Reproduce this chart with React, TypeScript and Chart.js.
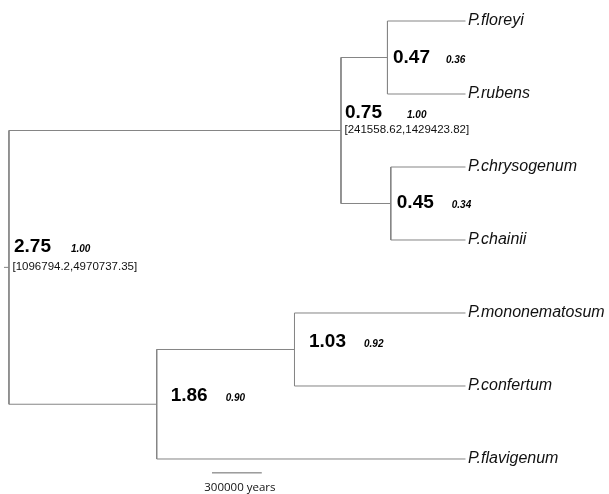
import React, { useEffect, useRef } from "react";
import { Chart, registerables } from "chart.js";

Chart.register(...registerables);

// ---- Data ----
const tipNames = [
  "P.floreyi",
  "P.rubens",
  "P.chrysogenum",
  "P.chainii",
  "P.mononematosum",
  "P.confertum",
  "P.flavigenum",
];
// internal nodes (ages in million years)
const nodeAges = [0.47, 0.45, 0.75, 1.03, 1.86, 2.75];
const nodeAgeLabels = ["0.47", "0.45", "0.75", "1.03", "1.86", "2.75"];
const nodePosteriors = ["0.36", "0.34", "1.00", "0.92", "0.90", "1.00"];
const nodeHPD = ["", "", "[241558.62,1429423.82]", "", "", "[1096794.2,4970737.35]"];
const nodeChildren = [
  ["t0", "t1"],
  ["t2", "t3"],
  ["n0", "n1"],
  ["t4", "t5"],
  ["n3", "t6"],
  ["n2", "n4"],
];
const rootNode = 5;
const rootStubAge = 2.78;
const scaleBarStart = 1.527; // Mya
const scaleBarLength = 0.3; // 300000 years
const scaleBarLabel = "300000 years";
const scaleBarRow = 6.19;

// ---- Styles ----
const LINE = "#858585";
const FONT = "'Liberation Sans', Arial, sans-serif";
// [dx, baseline dy, posterior dx]
const nodeLabelStyle = [
  [5.5, 5.5, 53],
  [6, 4.5, 55],
  [4, -13, 62],
  [14.5, -2.5, 55],
  [14, -3, 55],
  [5, -15, 57],
];

function posOf(id: string): { x: number; y: number } {
  if (id[0] === "t") return { x: 0, y: Number(id.slice(1)) };
  const i = Number(id.slice(1));
  const ys = nodeChildren[i].map((c) => posOf(c).y);
  return { x: nodeAges[i], y: ys.reduce((a, b) => a + b, 0) / ys.length };
}

function seg(points: { x: number; y: number }[], color = LINE) {
  return {
    data: points,
    showLine: true,
    borderColor: color,
    borderWidth: 1,
    pointRadius: 0,
    tension: 0,
  };
}

export default function App() {
  const ref = useRef<HTMLCanvasElement | null>(null);
  useEffect(() => {
    if (!ref.current) return;
    const datasets: any[] = [];
    nodeChildren.forEach((children, i) => {
      const p = posOf("n" + i);
      const cys = children.map((c) => posOf(c).y);
      datasets.push(seg([
        { x: p.x, y: Math.min(...cys) },
        { x: p.x, y: Math.max(...cys) },
      ]));
      children.forEach((c) => {
        const q = posOf(c);
        datasets.push(seg([
          { x: p.x, y: q.y },
          { x: q.x, y: q.y },
        ]));
      });
    });
    const rp = posOf("n" + rootNode);
    datasets.push(seg([
      { x: rootStubAge, y: rp.y },
      { x: rp.x, y: rp.y },
    ]));
    datasets.push(seg([
      { x: scaleBarStart, y: scaleBarRow },
      { x: scaleBarStart - scaleBarLength, y: scaleBarRow },
    ], "#666"));

    const labels = {
      id: "treeLabels",
      afterDatasetsDraw(chart: any) {
        const { ctx } = chart;
        const xs = chart.scales.x;
        const ys = chart.scales.y;
        ctx.save();
        // tip labels
        ctx.fillStyle = "#111";
        ctx.textAlign = "left";
        ctx.textBaseline = "middle";
        ctx.font = `italic 16px ${FONT}`;
        tipNames.forEach((n, i) => {
          ctx.fillText(n, xs.getPixelForValue(0) + 2.5, ys.getPixelForValue(i));
        });
        // node labels
        nodeAges.forEach((age, i) => {
          const p = posOf("n" + i);
          const px = xs.getPixelForValue(p.x);
          const py = ys.getPixelForValue(p.y);
          const [dx, dy, pdx] = nodeLabelStyle[i];
          ctx.textBaseline = "alphabetic";
          ctx.font = `bold 19px ${FONT}`;
          ctx.fillStyle = "#000";
          ctx.fillText(nodeAgeLabels[i], px + dx, py + dy);
          ctx.font = `italic bold 10px ${FONT}`;
          ctx.fillText(nodePosteriors[i], px + dx + pdx, py + dy);
          if (nodeHPD[i]) {
            ctx.font = `11.5px ${FONT}`;
            ctx.textBaseline = "middle";
            ctx.fillStyle = "#111";
            ctx.fillText(nodeHPD[i], px + 3.5, py - 1);
          }
        });
        // scale bar label
        ctx.font = `11.5px 'Open Sans', sans-serif`;
        ctx.textAlign = "center";
        ctx.textBaseline = "middle";
        ctx.fillStyle = "#111";
        const cx = (xs.getPixelForValue(scaleBarStart) + xs.getPixelForValue(scaleBarStart - scaleBarLength)) / 2;
        ctx.fillText(scaleBarLabel, cx + 3, ys.getPixelForValue(scaleBarRow) + 15);
        ctx.restore();
      },
    };

    const chart = new Chart(ref.current, {
      type: "scatter",
      data: { datasets },
      options: {
        animation: false,
        responsive: false,
        events: [],
        layout: { padding: 0 },
        plugins: { legend: { display: false }, tooltip: { enabled: false } },
        scales: {
          x: { type: "linear", display: false, reverse: true, min: -0.8645, max: 2.804 },
          y: { type: "linear", display: false, reverse: true, min: -0.2877, max: 6.4795 },
        },
      },
      plugins: [labels],
    });
    return () => chart.destroy();
  }, []);
  return (
    <div style={{ position: "absolute", left: 0, top: 0, width: 609, height: 494, background: "#fff" }}>
      <canvas ref={ref} width={609} height={494} style={{ display: "block" }} />
    </div>
  );
}
